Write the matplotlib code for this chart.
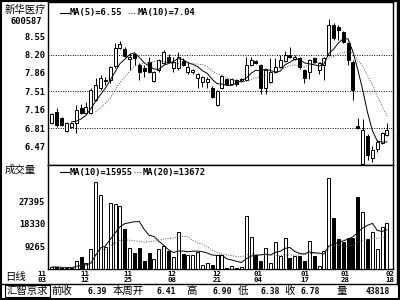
import matplotlib
matplotlib.use('Agg')
import matplotlib.pyplot as plt
import matplotlib.transforms as mtransforms
from matplotlib.lines import Line2D
from matplotlib.patches import Rectangle
import numpy as np
import pandas as pd

# daily candles 11/03 .. 02/18
opens = [6.91, 7.11, 7.00, 6.75, 6.83, 6.90, 7.19, 7.09, 7.09, 7.34,
         7.57, 7.70, 7.72, 7.98, 8.32, 8.30, 8.12, 8.21, 8.00, 7.95,
         8.06, 7.70, 7.91, 8.04, 8.15, 7.94, 7.94, 8.08, 7.87, 7.87,
         7.76, 7.68, 7.68, 7.57, 7.25, 7.57, 7.74, 7.64, 7.72, 7.70,
         7.72, 8.00, 8.08, 8.00, 7.57, 7.68, 7.87, 7.96, 8.08, 8.19,
         8.12, 8.13, 7.91, 7.87, 8.13, 7.91, 8.00, 8.19, 8.76, 8.72,
         8.62, 8.42, 8.06, 6.85, 6.13, 6.66, 6.24, 6.41, 6.53, 6.68]
highs = [7.10, 7.19, 7.02, 6.92, 6.92, 7.24, 7.26, 7.30, 7.57, 7.76,
         7.81, 7.78, 7.98, 8.42, 8.45, 8.34, 8.23, 8.23, 8.04, 8.00,
         8.15, 7.89, 8.12, 8.29, 8.21, 8.15, 8.25, 8.13, 8.06, 7.93,
         7.85, 7.79, 7.78, 7.61, 7.53, 7.81, 7.76, 7.76, 7.74, 7.76,
         8.15, 8.15, 8.10, 8.02, 7.93, 8.13, 8.13, 8.19, 8.27, 8.34,
         8.19, 8.15, 7.93, 8.12, 8.15, 8.06, 8.15, 8.87, 8.80, 8.76,
         8.64, 8.44, 8.10, 7.00, 6.98, 6.70, 6.47, 6.58, 6.74, 6.90]
lows = [6.89, 6.83, 6.85, 6.73, 6.81, 6.72, 7.07, 7.07, 7.07, 7.32,
        7.53, 7.62, 7.66, 7.95, 8.30, 8.15, 7.91, 8.00, 7.72, 7.78,
        7.85, 7.68, 7.87, 8.02, 8.04, 7.87, 7.91, 7.98, 7.83, 7.83,
        7.57, 7.59, 7.57, 7.38, 7.23, 7.55, 7.62, 7.62, 7.60, 7.68,
        7.70, 7.98, 8.02, 7.45, 7.45, 7.66, 7.85, 7.94, 8.06, 8.13,
        8.10, 7.93, 7.66, 7.74, 8.04, 7.83, 7.72, 8.17, 8.47, 8.47,
        8.42, 8.00, 7.34, 6.79, 6.12, 6.21, 6.17, 6.36, 6.51, 6.66]
closes = [7.08, 6.87, 6.87, 6.90, 6.90, 7.15, 7.09, 7.21, 7.53, 7.62,
          7.76, 7.70, 7.96, 8.32, 8.40, 8.17, 8.15, 8.13, 7.87, 7.89,
          7.87, 7.87, 8.10, 8.25, 8.06, 8.06, 8.15, 8.00, 7.96, 7.91,
          7.83, 7.77, 7.74, 7.40, 7.51, 7.79, 7.64, 7.74, 7.64, 7.74,
          8.00, 8.10, 8.04, 7.57, 7.91, 7.87, 7.96, 8.10, 8.19, 8.15,
          8.15, 7.96, 7.76, 8.10, 8.06, 8.04, 8.13, 8.76, 8.51, 8.66,
          8.44, 8.10, 7.53, 6.81, 6.77, 6.30, 6.39, 6.55, 6.72, 6.78]
volumes = [800, 800, 400, 400, 400, 3200, 4800, 2400, 8000, 35000,
           29800, 8900, 26600, 26200, 25400, 16100, 8500, 6400, 8500, 3200,
           6400, 4000, 8000, 9300, 7300, 4800, 14900, 6000, 5600, 5600,
           6800, 1600, 2400, 1600, 5600, 5600, 400, 1200, 300, 800,
           21400, 12900, 5600, 3200, 8500, 2400, 10900, 5200, 12500, 4400,
           5200, 5200, 3200, 11300, 5200, 1200, 7300, 36700, 20500, 12100,
           10900, 12500, 12500, 29000, 23000, 12100, 14900, 8000, 16900, 18500]

price_ticks = [8.55, 8.20, 7.86, 7.51, 7.16, 6.81, 6.47]
price_grid = [8.20, 7.51, 6.81]
vol_ticks = [27395, 18330, 9265]
date_months = ['11', '11', '11', '12', '12', '01', '01', '01', '02']
date_days = ['03', '12', '25', '08', '21', '04', '17', '28', '18']
date_pos = [-2.1, 6.8, 15.7, 24.7, 34.0, 42.4, 52.1, 60.3, 69.6]

W, H = 400, 300
mono = dict(family='DejaVu Sans Mono', weight='bold', size=6.3)
mono_s = dict(family='DejaVu Sans Mono', weight='bold', size=5.8)
mono_xs = dict(family='DejaVu Sans Mono', weight='bold', size=5.3)
cjk = dict(family=['Noto Sans CJK SC', 'DejaVu Sans'], size=7.5)


def fx(px):
    return px / W


def fy(py):
    return 1 - py / H


fig = plt.figure(figsize=(4, 3), dpi=100)
fig.patch.set_facecolor('white')

ax_p = fig.add_axes([fx(48), fy(165), fx(393) - fx(48), fy(2) - fy(165)])
ax_v = fig.add_axes([fx(48), fy(269), fx(393) - fx(48), fy(165) - fy(269)])

x = np.arange(len(closes))
o = np.array(opens)
c = np.array(closes)
up = c >= o
face = np.where(up, 'white', 'black')
bw = 0.62

# price candles
ax_p.vlines(x, lows, highs, color='black', lw=0.7, zorder=2)
body_lo = np.minimum(o, c)
body_h = np.maximum(np.abs(c - o), 0.012)
ax_p.bar(x, body_h, bottom=body_lo, width=bw, color=face,
         edgecolor='black', linewidth=0.7, zorder=3)

ma5 = pd.Series(closes).rolling(5).mean()
ma10 = pd.Series(closes).rolling(10).mean()
ax_p.plot(x, ma5, color='black', lw=0.7, zorder=4)
ax_p.plot(x, ma10, color='#555555', lw=0.7, ls=(0, (1, 1.5)), zorder=4)

for g in price_grid:
    ax_p.axhline(g, color='black', lw=0.7, ls=(0, (1, 1.5)), zorder=1)

ax_p.set_xlim(-0.82, 70.24)
ax_p.set_ylim(6.111, 9.193)
ax_p.set_xticks([])
ax_p.set_yticks(price_ticks)
ax_p.set_yticklabels(['%.2f' % t for t in price_ticks], fontdict=mono)
ax_p.tick_params(axis='y', length=0, pad=2)

# volume bars
ax_v.bar(x, volumes, width=bw, color=face, edgecolor='black', linewidth=0.7, zorder=3)
vma10 = pd.Series(volumes).rolling(10, min_periods=1).mean()
vma20 = pd.Series(volumes).rolling(20, min_periods=1).mean()
ax_v.plot(x, vma10, color='black', lw=0.7, zorder=4)
ax_v.plot(x, vma20, color='#555555', lw=0.7, ls=(0, (1, 1.5)), zorder=4)
ax_v.set_xlim(-0.82, 70.24)
ax_v.set_ylim(0, 42000)
ax_v.set_xticks([])
ax_v.set_yticks(vol_ticks)
ax_v.set_yticklabels([str(t) for t in vol_ticks], fontdict=mono)
ax_v.tick_params(axis='y', length=0, pad=2)

for ax in (ax_p, ax_v):
    for s in ax.spines.values():
        s.set_linewidth(1.0)
        s.set_color('black')

# date labels under volume panel (month over day)
date_tr = mtransforms.blended_transform_factory(ax_v.transData, fig.transFigure)
for m, d, p in zip(date_months, date_days, date_pos):
    ax_v.text(p, fy(273.5), m, transform=date_tr, ha='center', va='center',
              fontdict=mono_xs, clip_on=False)
    ax_v.text(p, fy(279.5), d, transform=date_tr, ha='center', va='center',
              fontdict=mono_xs, clip_on=False)

# legends
fig.add_artist(Line2D([fx(60), fx(69)], [fy(13), fy(13)], color='black', lw=0.8))
fig.text(fx(70), fy(13), 'MA(5)=6.55', va='center', ha='left', fontdict=mono)
fig.add_artist(Line2D([fx(128), fx(137)], [fy(13), fy(13)], color='#555555', lw=0.8, ls=(0, (1, 1.5))))
fig.text(fx(138), fy(13), 'MA(10)=7.04', va='center', ha='left', fontdict=mono)

fig.add_artist(Line2D([fx(60), fx(69)], [fy(172), fy(172)], color='black', lw=0.8))
fig.text(fx(70), fy(172), 'MA(10)=15955', va='center', ha='left', fontdict=mono)
fig.add_artist(Line2D([fx(134), fx(142)], [fy(172), fy(172)], color='#555555', lw=0.8, ls=(0, (1, 1.5))))
fig.text(fx(143), fy(172), 'MA(20)=13672', va='center', ha='left', fontdict=mono)

# left labels
fig.text(fx(25), fy(10), '新华医疗', ha='center', va='center', fontdict=cjk)
fig.text(fx(26), fy(22), '600587', ha='center', va='center', fontdict=mono)
fig.text(fx(20), fy(170), '成交量', ha='center', va='center', fontdict=cjk)
fig.text(fx(16), fy(277), '日线', ha='center', va='center', fontdict=cjk)

# bottom info bar
fig.add_artist(Line2D([0, 1], [fy(283.5), fy(283.5)], color='black', lw=1.0))
fig.add_artist(Rectangle((fx(5), fy(297)), fx(50) - fx(5), fy(285) - fy(297),
                         fill=False, edgecolor='black', lw=0.8))
fig.text(fx(27.5), fy(291), '汇智京求', ha='center', va='center', fontdict=cjk)
info = [('前收', 62, True), ('6.39', 97, False), ('本周开', 128, True), ('6.41', 166, False),
        ('高', 192, True), ('6.90', 222, False), ('低', 243, True), ('6.38', 270, False),
        ('收', 290, True), ('6.78', 310, False), ('量', 342, True), ('43818', 378, False)]
for t, px, is_cjk in info:
    fig.text(fx(px), fy(291), t, ha='center', va='center', fontdict=cjk if is_cjk else mono_s)

# outer frame
fig.add_artist(Rectangle((0.002, 0.003), 0.995, 0.993, fill=False, edgecolor='black', lw=1.5))
fig.add_artist(Line2D([fx(396.5), fx(396.5)], [fy(283.5), 1], color='black', lw=1.0))

fig.savefig('out.png', dpi=100)
